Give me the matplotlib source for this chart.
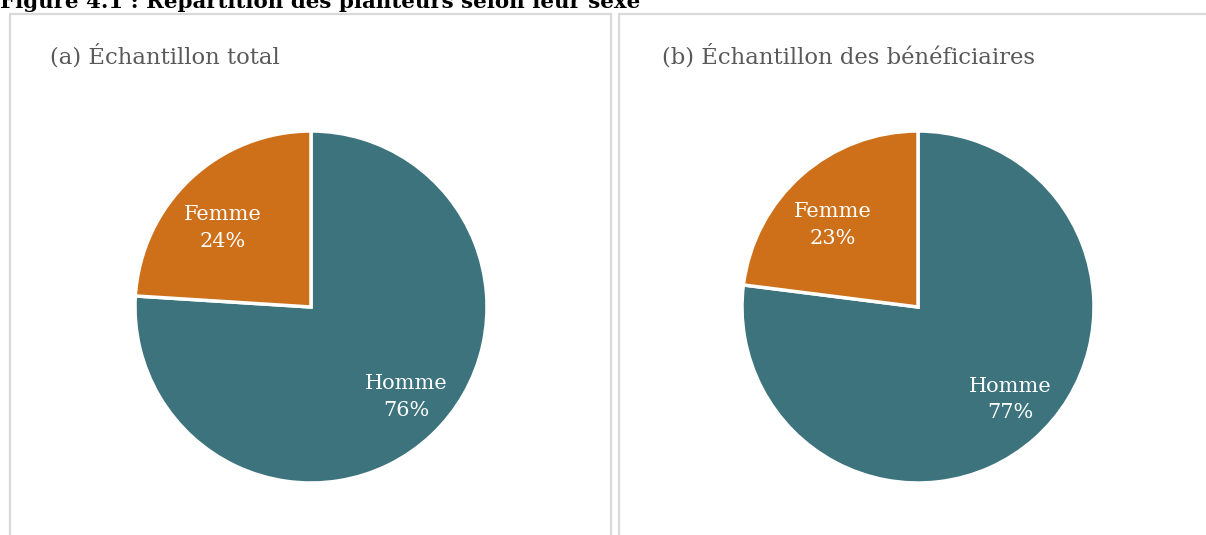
import matplotlib
matplotlib.use('Agg')
import matplotlib.pyplot as plt
from matplotlib.patches import Rectangle

W, H = 1206, 535

TITLE = "Figure 4.1 : Répartition des planteurs selon leur sexe"
PANEL_TITLES = ["(a) Échantillon total", "(b) Échantillon des bénéficiaires"]
CATEGORIES = ["Homme", "Femme"]
TOTAL = [76, 24]
BENEF = [77, 23]

COLORS = ["#3C737D", "#CE701A"]
BORDER = "#D9D9D9"

plt.rcParams['font.family'] = ['DejaVu Serif']

fig = plt.figure(figsize=(W / 100, H / 100), dpi=100)
fig.patch.set_facecolor("white")


# panel frames (pixel coords -> figure fraction)
def px_rect(x0, y0, x1, y1):
    return Rectangle((x0 / W, 1 - y1 / H), (x1 - x0) / W, (y1 - y0) / H,
                     transform=fig.transFigure, fill=False,
                     edgecolor=BORDER, linewidth=1.6)


fig.patches.append(px_rect(10, 14, 611, 560))
fig.patches.append(px_rect(619, 14, 1230, 560))

fig.text(0, 1 - 8 / H, TITLE, fontsize=15.4, fontweight="bold",
         ha="left", va="baseline", color="black")

panels = [
    (PANEL_TITLES[0], TOTAL, 311, 50),
    (PANEL_TITLES[1], BENEF, 918, 662),
]
R = 176
CY = 307

for title, values, cx, tx in panels:
    fig.text(tx / W, 1 - 56 / H, title, fontsize=16.4, color="#595959",
             ha="left", va="center")
    ax = fig.add_axes([(cx - R) / W, (H - CY - R) / H, 2 * R / W, 2 * R / H])
    labels_txt = [f"{c}\n{v}%" for c, v in zip(CATEGORIES, values)]
    wedges, texts = ax.pie(
        values, colors=COLORS, startangle=90, counterclock=False,
        labels=labels_txt, labeldistance=0.7,
        wedgeprops=dict(edgecolor="white", linewidth=2.5),
        textprops=dict(color="white", fontsize=15, ha="center",
                       va="center", linespacing=1.5),
    )
    # label placement nudged to follow the original layout
    hx, hy = texts[0].get_position()
    texts[0].set_position((hx + 0.06, hy))
    fx, fy = texts[1].get_position()
    texts[1].set_position((fx - 0.02, fy - 0.06))
    ax.set_xlim(-1, 1)
    ax.set_ylim(-1, 1)
    ax.set_aspect("equal")
    ax.axis("off")

fig.savefig("out.png", dpi=100)
